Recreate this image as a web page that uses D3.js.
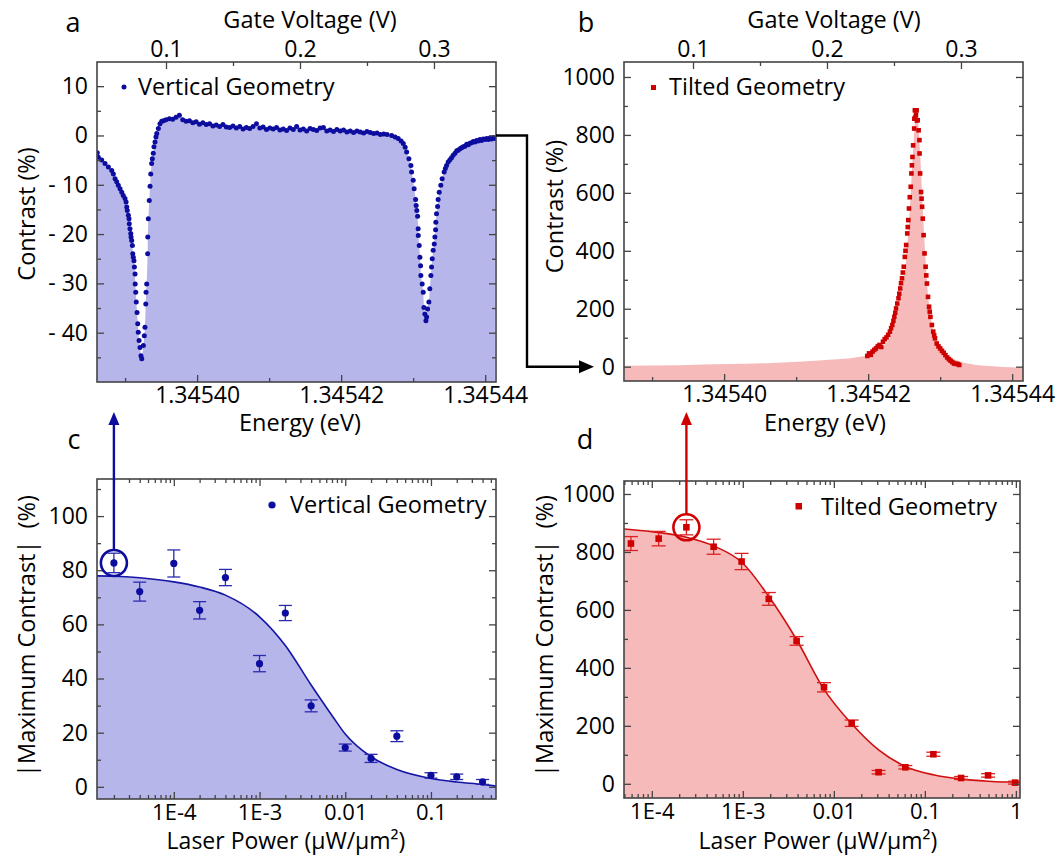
<!DOCTYPE html>
<html>
<head>
<meta charset="utf-8">
<script src="https://cdn.jsdelivr.net/npm/d3@7"></script>
<style>
body{margin:0;background:#fff}
svg text{font-family:"Open Sans",sans-serif;fill:#000}
</style>
</head>
<body>
<svg id="fig" width="1061" height="856"></svg>
<script>
// ---------- data ----------
// panel a: [gate voltage (V), contrast (%)]
const vertScan=[[0.0487,-3.5],[0.0495,-4.4],[0.0520,-5.0],[0.0545,-5.7],[0.0570,-6.4],[0.0595,-7.1],[0.0607,-7.8],[0.0620,-8.8],[0.0632,-9.4],[0.0644,-10.1],[0.0657,-10.8],[0.0670,-11.5],[0.0681,-12.2],[0.0694,-12.8],[0.0702,-13.5],[0.0707,-14.5],[0.0711,-15.2],[0.0719,-16.2],[0.0724,-16.9],[0.0726,-17.9],[0.0731,-18.9],[0.0737,-19.9],[0.0739,-20.6],[0.0744,-21.3],[0.0749,-22.3],[0.0752,-24.0],[0.0756,-24.7],[0.0761,-25.4],[0.0764,-26.7],[0.0769,-28.1],[0.0770,-30.1],[0.0774,-31.8],[0.0778,-33.8],[0.0784,-35.9],[0.0789,-38.2],[0.0793,-39.9],[0.0799,-41.6],[0.0806,-43.0],[0.0813,-44.7],[0.0819,-45.3],
[0.0831,-42.6],[0.0838,-40.6],[0.0843,-38.9],[0.0849,-34.2],[0.0851,-31.8],[0.0856,-30.1],[0.0863,-24.0],[0.0864,-20.6],[0.0868,-16.9],[0.0875,-13.2],[0.0881,-10.3],[0.0886,-7.8],[0.0893,-5.7],[0.0898,-4.7],[0.0905,-3.6],[0.0910,-2.3],[0.0918,-1.3],[0.0925,-0.3],[0.0931,0.4],[0.0943,1.4],[0.0955,2.4],[0.0968,2.9],[0.0982,3.0],
[0.1000,3.2],[0.1025,3.4],[0.1050,3.3],[0.1075,3.7],[0.1100,4.1],[0.1125,3.2],[0.1150,2.9],[0.1175,3.0],[0.1200,2.6],[0.1225,2.8],[0.1250,2.3],[0.1275,2.6],[0.1300,2.2],[0.1325,2.4],[0.1350,1.9],[0.1375,2.1],[0.1400,1.8],[0.1425,2.2],[0.1450,1.7],[0.1475,1.6],[0.1500,1.9],[0.1525,1.5],[0.1550,1.8],[0.1575,1.3],[0.1600,1.6],[0.1625,1.4],[0.1650,1.8],[0.1675,2.4],[0.1700,1.5],[0.1725,1.7],[0.1750,1.2],[0.1775,1.5],[0.1800,1.3],[0.1825,1.6],[0.1850,1.1],[0.1875,1.3],[0.1900,1.0],[0.1925,1.5],[0.1950,1.2],[0.1975,1.8],[0.2000,1.1],[0.2025,1.3],[0.2050,0.9],[0.2075,1.4],[0.2100,1.2],[0.2125,1.0],[0.2150,1.5],[0.2175,1.6],[0.2200,0.9],[0.2225,1.1],[0.2250,0.8],[0.2275,1.2],[0.2300,0.9],[0.2325,1.1],[0.2350,0.7],[0.2375,0.9],[0.2400,0.6],[0.2425,0.9],[0.2450,0.7],[0.2475,0.5],[0.2500,0.8],[0.2525,0.6],[0.2550,0.4],[0.2575,0.5],[0.2600,0.2],[0.2625,0.3],
[0.2650,0.2],[0.2684,0.0],[0.2710,-0.3],[0.2733,-0.6],[0.2755,-1.1],[0.2771,-1.65],[0.2785,-2.4],[0.2796,-3.35],[0.2813,-4.7],[0.2828,-6.1],[0.2833,-7.4],[0.2845,-9.1],[0.2852,-10.8],[0.2863,-13.0],[0.2867,-14.2],[0.2872,-15.2],[0.2878,-16.4],[0.2882,-18.9],[0.2883,-20.3],[0.2890,-22.3],[0.2895,-24.7],[0.2900,-26.4],[0.2902,-28.4],[0.2912,-30.1],[0.2920,-31.8],[0.2925,-34.9],[0.2932,-36.2],[0.2940,-37.6],[0.2945,-36.8],
[0.2952,-35.2],[0.2962,-33.8],[0.2969,-31.1],[0.2977,-28.4],[0.2982,-26.7],[0.2987,-25.0],[0.2994,-23.3],[0.3002,-22.0],[0.3007,-20.6],[0.3012,-19.1],[0.3014,-17.6],[0.3019,-15.9],[0.3027,-14.4],[0.3031,-13.0],[0.3039,-11.5],[0.3051,-10.1],[0.3061,-8.8],[0.3076,-7.4],[0.3085,-6.7],[0.3094,-6.1],[0.3106,-5.4],[0.3119,-4.9],[0.3131,-4.5],[0.3143,-4.0],[0.3157,-3.6],[0.3170,-3.1],[0.3181,-3.0],[0.3194,-2.7],[0.3206,-2.5],[0.3218,-2.3],[0.3231,-2.2],[0.3244,-1.8],[0.3256,-1.9],[0.3268,-1.6],[0.3281,-1.5],[0.3293,-1.2],[0.3306,-1.3],[0.3318,-1.0],[0.3330,-1.1],[0.3343,-0.8],[0.3355,-1.0],[0.3368,-0.7],[0.3380,-0.8],[0.3393,-0.6],[0.3405,-0.8],[0.3418,-0.5],[0.3430,-0.7],[0.3443,-0.4],[0.3455,-0.6]]

// panel b: [gate voltage (V), contrast (%)]
const tiltScan=[[0.2301,37],[0.2314,46],[0.2327,41],[0.2340,52],[0.2353,58],[0.2366,63],[0.2379,70],[0.2392,75],[0.2405,68],[0.2418,86],[0.2431,95],[0.2444,101],[0.2457,110],[0.2470,121],[0.2479,133],[0.2488,144],[0.2496,158],[0.2503,172],[0.2510,186],[0.2516,201],[0.2525,218],[0.2534,236],[0.2540,252],[0.2547,270],[0.2553,288],[0.2560,305],[0.2566,325],[0.2573,345],[0.2581,379],[0.2586,400],[0.2591,420],[0.2599,460],[0.2603,482],[0.2607,506],[0.2612,546],[0.2618,585],[0.2625,621],[0.2630,667],[0.2634,695],[0.2638,724],[0.2643,764],[0.2651,822],[0.2652,856],[0.2656,885],[0.2660,860],[0.2664,870],[0.2669,885],[0.2671,850],[0.2677,851],[0.2684,816],[0.2690,782],[0.2691,736],[0.2695,667],[0.2702,603],[0.2706,580],[0.2710,552],[0.2715,511],[0.2721,454],[0.2728,391],[0.2736,345],[0.2741,315],[0.2746,287],[0.2754,241],[0.2762,207],[0.2767,190],[0.2772,172],[0.2783,144],[0.2793,121],[0.2800,108],[0.2806,98],[0.2819,80],[0.2832,70],[0.2845,63],[0.2858,55],[0.2871,48],[0.2884,40],[0.2897,32],[0.2910,26],[0.2922,21],[0.2935,16],[0.2948,11],[0.2961,10],[0.2974,9],[0.2987,6]]
const tiltFit=[[0.0490,3],[0.0900,5],[0.1266,9],[0.1550,12],[0.1784,17],[0.2043,25],[0.2200,31],[0.2301,40],[0.2370,55],[0.2431,75],[0.2480,110],[0.2508,144],[0.2535,195],[0.2560,253],[0.2580,320],[0.2599,414],[0.2612,500],[0.2625,598],[0.2638,710],[0.2651,805],[0.2660,870],[0.2666,885],[0.2673,870],[0.2684,828],[0.2697,720],[0.2710,598],[0.2723,470],[0.2736,368],[0.2750,270],[0.2767,195],[0.2790,130],[0.2819,92],[0.2860,60],[0.2897,40],[0.3000,17],[0.3100,7],[0.3207,2],[0.3466,-3]]

// panel c: laser power (uW/um2), |max contrast| (%), error
const powerVert=[2e-5,4e-5,1e-4,2e-4,4e-4,1e-3,2e-3,4e-3,0.01,0.02,0.04,0.1,0.2,0.4]
const maxVert=[82.7,72.1,82.5,65.2,77.3,45.5,64.2,29.9,14.5,10.5,18.7,4.2,3.7,1.8]
const errVert=[3.6,3.5,5.0,3.2,3.0,3.0,2.8,2.2,1.3,1.5,2.0,1.0,1.0,0.9]
const fitVert=[[1.27e-5,77.9],[2e-5,77.8],[4e-5,77.2],[1e-4,75.7],[2e-4,73.8],[4e-4,70.8],[1e-3,62.8],[2e-3,52.2],[4e-3,37.6],[7.2e-3,25.8],[0.01,19.5],[0.02,11.1],[0.04,6.4],[0.1,3.1],[0.2,1.8],[0.4,0.9],[0.574,0.3]]

// panel d
const powerTilt=[5.9e-5,1.19e-4,2.4e-4,4.78e-4,9.7e-4,1.93e-3,3.9e-3,7.8e-3,0.0157,0.031,0.061,0.124,0.25,0.495,0.98]
const maxTilt=[829,846,885,818,767,638,493,333,209,40,57,102,20,29,4]
const errTilt=[24,25,26,26,28,22,15,16,11,6,6,7,5,6,5]
const fitTilt=[[4.96e-5,879],[1e-4,870],[2.4e-4,851],[4.78e-4,821],[1e-3,761],[1.93e-3,646],[3.9e-3,497],[7.8e-3,326],[0.0157,207],[0.031,117],[0.061,60],[0.124,31],[0.25,16],[0.495,9],[1,6],[1.11,6]]

// ticks
const gateTicks=[0.1,0.2,0.3], gateMinor=[0.15,0.25]
const energyTicks=[1.34540,1.34542,1.34544], energyMinor=[1.34539,1.34541,1.34543]
const contrastTicksA=[-40,-30,-20,-10,0,10], contrastMinorA=[-45,-35,-25,-15,-5,5]
const contrastTicksB=[0,200,400,600,800,1000], contrastMinorB=[100,300,500,700,900]
const maxTicksC=[0,20,40,60,80,100], maxMinorC=[10,30,50,70,90,110]
const powerTicksC=[1e-4,1e-3,0.01,0.1], powerLabelsC=["1E-4","1E-3","0.01","0.1"]
const powerTicksD=[1e-4,1e-3,0.01,0.1,1], powerLabelsD=["1E-4","1E-3","0.01","0.1","1"]

const blue="#0c0c9e", blueFill="#b6b6ea", red="#cf0000", redFill="#f6baba"
const FS=23, TS=23.5

const svg=d3.select("#fig")
const defs=svg.append("defs")

function side(g,orient,scale,box,majors,minors,fmt,pad,fs){
	var make={bottom:d3.axisBottom,top:d3.axisTop,left:d3.axisLeft,right:d3.axisRight}[orient]
	var tr={bottom:"translate(0,"+box.b+")",top:"translate(0,"+box.t+")",left:"translate("+box.l+",0)",right:"translate("+box.r+",0)"}[orient]
	var mi=g.append("g").attr("transform",tr).call(make(scale).tickValues(minors).tickSize(-4).tickFormat(""))
	var ma=g.append("g").attr("transform",tr).call(make(scale).tickValues(majors).tickSize(-7).tickPadding(pad||6).tickFormat(fmt||""))
	for(let a of [mi,ma]){
		a.attr("color","#444").attr("font-size",fs||FS).attr("font-family",null)
		a.select(".domain").remove()
		a.selectAll("line").attr("stroke-width",1.3)
	}
	ma.selectAll("text").attr("fill","#000")
}

function frame(g,box,id){
	defs.append("clipPath").attr("id",id).append("rect")
		.attr("x",box.l).attr("y",box.t).attr("width",box.r-box.l).attr("height",box.b-box.t)
	return g.append("g").attr("clip-path","url(#"+id+")")
}

function border(g,box){
	g.append("rect").attr("x",box.l).attr("y",box.t).attr("width",box.r-box.l).attr("height",box.b-box.t)
		.attr("fill","none").attr("stroke","#444").attr("stroke-width",1.6)
}

function label(x,y,t,opt){
	opt=opt||{}
	var el=svg.append("text").attr("x",x).attr("y",y).attr("font-size",opt.size||TS)
		.attr("text-anchor",opt.anchor||"middle").text(t)
	if(opt.rotate) el.attr("transform","rotate(-90,"+x+","+y+")")
	return el
}

var minus=d=>d<0?"- "+Math.abs(d):d

// ---------- panel a ----------
var boxA={l:97,r:496,t:62,b:382}
var xA=d3.scaleLinear().domain([0.0485,0.3463]).range([boxA.l,boxA.r])
var eA=d3.scaleLinear().domain([1.3453861,1.3454415]).range([boxA.l,boxA.r])
var yA=d3.scaleLinear().domain([-50,14.9]).range([boxA.b,boxA.t])
var gA=svg.append("g")
var pA=frame(gA,boxA,"clipA")
pA.append("path").datum(vertScan.slice().sort((a,b)=>a[0]-b[0]))
	.attr("fill",blueFill)
	.attr("d",d3.area().x(d=>xA(d[0])).y0(boxA.b).y1(d=>yA(d[1])))
side(gA,"left",yA,boxA,contrastTicksA,contrastMinorA,minus,9)
side(gA,"right",yA,boxA,contrastTicksA,contrastMinorA)
side(gA,"bottom",eA,boxA,energyTicks,energyMinor,d3.format(".5f"),5)
side(gA,"top",xA,boxA,gateTicks,gateMinor,d3.format(".1f"),5)
pA.selectAll(".dot").data(vertScan).enter().append("circle")
	.attr("cx",d=>xA(d[0])).attr("cy",d=>yA(d[1])).attr("r",2.5).attr("fill",blue)
border(gA,boxA)
gA.append("circle").attr("cx",124).attr("cy",87).attr("r",2.5).attr("fill",blue)
label(138,95,"Vertical Geometry",{anchor:"start"})

// ---------- panel b ----------
var boxB={l:624,r:1023,t:62,b:381}
var xB=d3.scaleLinear().domain([0.0485,0.3463]).range([boxB.l,boxB.r])
var eB=d3.scaleLinear().domain([1.3453861,1.3454415]).range([boxB.l,boxB.r])
var yB=d3.scaleLinear().domain([-49.4,1051.7]).range([boxB.b,boxB.t])
var gB=svg.append("g")
var pB=frame(gB,boxB,"clipB")
pB.append("path").datum(tiltFit)
	.attr("fill",redFill)
	.attr("d",d3.area().curve(d3.curveMonotoneX).x(d=>xB(d[0])).y0(boxB.b).y1(d=>yB(d[1])))
side(gB,"left",yB,boxB,contrastTicksB,contrastMinorB,d=>d,9)
side(gB,"right",yB,boxB,contrastTicksB,contrastMinorB)
side(gB,"bottom",eB,boxB,energyTicks,energyMinor,d3.format(".5f"),5)
side(gB,"top",xB,boxB,gateTicks,gateMinor,d3.format(".1f"),5)
pB.selectAll(".sq").data(tiltScan).enter().append("rect")
	.attr("x",d=>xB(d[0])-2.3).attr("y",d=>yB(d[1])-2.3).attr("width",4.6).attr("height",4.6).attr("fill",red)
border(gB,boxB)
gB.append("rect").attr("x",651).attr("y",85).attr("width",5).attr("height",5).attr("fill",red)
label(669,95,"Tilted Geometry",{anchor:"start"})

// ---------- panel c ----------
var boxC={l:97,r:496,t:479,b:799}
var xC=d3.scaleLog().domain([1.27e-5,0.574]).range([boxC.l,boxC.r])
var yC=d3.scaleLinear().domain([-4.5,113.7]).range([boxC.b,boxC.t])
var gC=svg.append("g")
var pC=frame(gC,boxC,"clipC")
pC.append("path").datum(fitVert).attr("fill",blueFill)
	.attr("d",d3.area().curve(d3.curveMonotoneX).x(d=>xC(d[0])).y0(boxC.b).y1(d=>yC(d[1])))
var minC=xC.ticks().filter(v=>powerTicksC.indexOf(v)<0)
side(gC,"left",yC,boxC,maxTicksC,maxMinorC,d=>d,9)
side(gC,"right",yC,boxC,maxTicksC,maxMinorC)
side(gC,"bottom",xC,boxC,powerTicksC,minC,(d,i)=>powerLabelsC[i],5,22)
side(gC,"top",xC,boxC,powerTicksC,minC)
pC.append("path").datum(fitVert).attr("fill","none").attr("stroke","#1515a5").attr("stroke-width",1.6)
	.attr("d",d3.line().curve(d3.curveMonotoneX).x(d=>xC(d[0])).y(d=>yC(d[1])))
var eb=pC.selectAll(".eb").data(powerVert).enter().append("g").attr("stroke","#2a2ab0").attr("stroke-width",1.3)
eb.append("line").attr("x1",d=>xC(d)).attr("x2",d=>xC(d)).attr("y1",(d,i)=>yC(maxVert[i]-errVert[i])).attr("y2",(d,i)=>yC(maxVert[i]+errVert[i]))
eb.append("line").attr("x1",d=>xC(d)-6.5).attr("x2",d=>xC(d)+6.5).attr("y1",(d,i)=>yC(maxVert[i]-errVert[i])).attr("y2",(d,i)=>yC(maxVert[i]-errVert[i]))
eb.append("line").attr("x1",d=>xC(d)-6.5).attr("x2",d=>xC(d)+6.5).attr("y1",(d,i)=>yC(maxVert[i]+errVert[i])).attr("y2",(d,i)=>yC(maxVert[i]+errVert[i]))
pC.selectAll(".dot").data(powerVert).enter().append("circle")
	.attr("cx",d=>xC(d)).attr("cy",(d,i)=>yC(maxVert[i])).attr("r",3.6).attr("fill",blue)
border(gC,boxC)
gC.append("circle").attr("cx",272).attr("cy",505).attr("r",3.6).attr("fill",blue)
label(290,513,"Vertical Geometry",{anchor:"start"})

// ---------- panel d ----------
var boxD={l:624,r:1020,t:481,b:798}
var xD=d3.scaleLog().domain([4.95e-5,1.11]).range([boxD.l,boxD.r])
var yD=d3.scaleLinear().domain([-49,1044.8]).range([boxD.b,boxD.t])
var gD=svg.append("g")
var pD=frame(gD,boxD,"clipD")
pD.append("path").datum(fitTilt).attr("fill",redFill)
	.attr("d",d3.area().curve(d3.curveMonotoneX).x(d=>xD(d[0])).y0(boxD.b).y1(d=>yD(d[1])))
var minD=xD.ticks().filter(v=>powerTicksD.indexOf(v)<0)
side(gD,"left",yD,boxD,contrastTicksB,contrastMinorB,d=>d,9)
side(gD,"right",yD,boxD,contrastTicksB,contrastMinorB)
side(gD,"bottom",xD,boxD,powerTicksD,minD,(d,i)=>powerLabelsD[i],5,22)
side(gD,"top",xD,boxD,powerTicksD,minD)
pD.append("path").datum(fitTilt).attr("fill","none").attr("stroke","#d01010").attr("stroke-width",1.6)
	.attr("d",d3.line().curve(d3.curveMonotoneX).x(d=>xD(d[0])).y(d=>yD(d[1])))
var ebd=pD.selectAll(".eb").data(powerTilt).enter().append("g").attr("stroke","#dd2020").attr("stroke-width",1.3)
ebd.append("line").attr("x1",d=>xD(d)).attr("x2",d=>xD(d)).attr("y1",(d,i)=>yD(maxTilt[i]-errTilt[i])).attr("y2",(d,i)=>yD(maxTilt[i]+errTilt[i]))
ebd.append("line").attr("x1",d=>xD(d)-7).attr("x2",d=>xD(d)+7).attr("y1",(d,i)=>yD(maxTilt[i]-errTilt[i])).attr("y2",(d,i)=>yD(maxTilt[i]-errTilt[i]))
ebd.append("line").attr("x1",d=>xD(d)-7).attr("x2",d=>xD(d)+7).attr("y1",(d,i)=>yD(maxTilt[i]+errTilt[i])).attr("y2",(d,i)=>yD(maxTilt[i]+errTilt[i]))
pD.selectAll(".sq").data(powerTilt).enter().append("rect")
	.attr("x",d=>xD(d)-3.3).attr("y",(d,i)=>yD(maxTilt[i])-3.3).attr("width",6.6).attr("height",6.6).attr("fill",red)
border(gD,boxD)
gD.append("rect").attr("x",795.5).attr("y",503).attr("width",6.5).attr("height",6.5).attr("fill",red)
label(821,515,"Tilted Geometry",{anchor:"start"})

// ---------- titles ----------
label(310,28,"Gate Voltage (V)")
label(834,28,"Gate Voltage (V)")
label(300,431,"Energy (eV)")
label(825,431,"Energy (eV)")
label(286,849,"Laser Power (\u03bcW/\u03bcm\u00b2)",{size:23})
label(818,849,"Laser Power (\u03bcW/\u03bcm\u00b2)",{size:23})
label(35,(boxA.t+boxA.b)/2-8,"Contrast (%)",{rotate:true})
label(563,(boxB.t+boxB.b)/2-15,"Contrast (%)",{rotate:true})
label(35,636,"|Maximum Contrast|  (%)",{rotate:true}).attr("xml:space","preserve")
label(553,636,"|Maximum Contrast|  (%)",{rotate:true}).attr("xml:space","preserve")
label(73,32,"a",{size:27})
label(586,32,"b",{size:27})
label(74,449,"c",{size:27})
label(585,449,"d",{size:27})

// ---------- annotations ----------
function arrowUp(x,yFrom,yTip,col){
	svg.append("line").attr("x1",x).attr("x2",x).attr("y1",yFrom).attr("y2",yTip+10).attr("stroke",col).attr("stroke-width",2.4)
	svg.append("path").attr("d","M"+x+","+yTip+"l-5.5,13h11z").attr("fill",col)
}
var cx=xC(powerVert[0]), cy=yC(maxVert[0])
svg.append("circle").attr("cx",cx).attr("cy",cy).attr("r",13).attr("fill","none").attr("stroke",blue).attr("stroke-width",2.6)
arrowUp(cx,cy-13,412,blue)
var dx=xD(powerTilt[2]), dy=yD(maxTilt[2])
svg.append("circle").attr("cx",dx).attr("cy",dy).attr("r",13).attr("fill","none").attr("stroke",red).attr("stroke-width",2.6)
arrowUp(dx,dy-13,412,red)

// connector a -> b
svg.append("path").attr("d","M"+boxA.r+","+yA(0)+"H527V"+yB(0)+"H582")
	.attr("fill","none").attr("stroke","#000").attr("stroke-width",2.4)
svg.append("path").attr("d","M594,"+yB(0)+"l-15,-6.5v13z").attr("fill","#000")
</script>
</body>
</html>
